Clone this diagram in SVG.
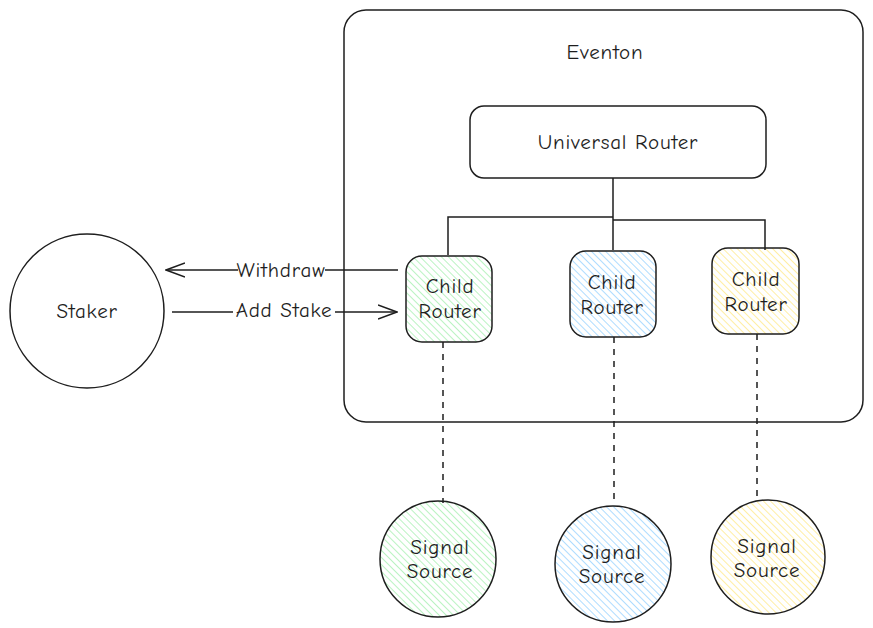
<svg xmlns="http://www.w3.org/2000/svg" width="873" height="628" viewBox="0 0 873 628">
<defs>
<pattern id="hg" patternUnits="userSpaceOnUse" width="5" height="5" patternTransform="rotate(-45)"><line x1="0" y1="0" x2="0" y2="5" stroke="#b2f2bb" stroke-width="1.8"/></pattern>
<pattern id="hb" patternUnits="userSpaceOnUse" width="5" height="5" patternTransform="rotate(-45)"><line x1="0" y1="0" x2="0" y2="5" stroke="#a5d8ff" stroke-width="1.8"/></pattern>
<pattern id="hy" patternUnits="userSpaceOnUse" width="5" height="5" patternTransform="rotate(-45)"><line x1="0" y1="0" x2="0" y2="5" stroke="#ffec99" stroke-width="1.8"/></pattern>
<marker id="arr" markerWidth="20" markerHeight="16" refX="19" refY="8" orient="auto" markerUnits="userSpaceOnUse"><path d="M0,1 L19,8 L0,15" fill="none" stroke="#1e1e1e" stroke-width="1.5"/></marker>
</defs>
<style>
.s{fill:none;stroke:#1e1e1e;stroke-width:1.5}
.t{font-family:"Comic Neue","Liberation Sans",sans-serif;font-size:21px;letter-spacing:0.8px;fill:#1e1e1e;text-anchor:middle;dominant-baseline:central}
.d{stroke:#1e1e1e;stroke-width:1.5;stroke-dasharray:6 6;fill:none}
</style>
<rect width="873" height="628" fill="#fff"/>
<g id="eventon">
<rect class="s" x="344" y="10" width="519" height="412" rx="22"/>
<text class="t" x="605" y="52">Eventon</text>
</g>
<g id="universal-router">
<rect class="s" x="470" y="106" width="296" height="72" rx="14"/>
<text class="t" x="618" y="142">Universal Router</text>
</g>
<g id="staker">
<circle class="s" cx="87" cy="311" r="77"/>
<text class="t" x="87" y="311">Staker</text>
</g>
<g id="child-router-1">
<rect x="406" y="256" width="86" height="86" rx="16" fill="url(#hg)" stroke="#1e1e1e" stroke-width="1.5"/>
<text class="t" x="450" y="286">Child</text>
<text class="t" x="450" y="311">Router</text>
</g>
<g id="child-router-2">
<rect x="570" y="251" width="86" height="86" rx="16" fill="url(#hb)" stroke="#1e1e1e" stroke-width="1.5"/>
<text class="t" x="612" y="282">Child</text>
<text class="t" x="612" y="307">Router</text>
</g>
<g id="child-router-3">
<rect x="712" y="248" width="87" height="86" rx="16" fill="url(#hy)" stroke="#1e1e1e" stroke-width="1.5"/>
<text class="t" x="756" y="279">Child</text>
<text class="t" x="756" y="304">Router</text>
</g>
<g id="signal-source-1">
<circle cx="438" cy="559" r="58" fill="url(#hg)" stroke="#1e1e1e" stroke-width="1.5"/>
<text class="t" x="440" y="547">Signal</text>
<text class="t" x="440" y="571">Source</text>
</g>
<g id="signal-source-2">
<circle cx="613" cy="564" r="58" fill="url(#hb)" stroke="#1e1e1e" stroke-width="1.5"/>
<text class="t" x="612" y="552">Signal</text>
<text class="t" x="612" y="576">Source</text>
</g>
<g id="signal-source-3">
<circle cx="768" cy="557" r="57" fill="url(#hy)" stroke="#1e1e1e" stroke-width="1.5"/>
<text class="t" x="767" y="546">Signal</text>
<text class="t" x="767" y="570">Source</text>
</g>
<g id="connectors">
<path class="s" d="M613,178 V250 M448,255 V217 H613 M613,220 H765 V250"/>
<line class="d" x1="443" y1="342" x2="443" y2="503"/>
<line class="d" x1="614" y1="337" x2="614" y2="500"/>
<line class="d" x1="757" y1="334" x2="757" y2="496"/>
<line class="s" x1="398" y1="270" x2="166" y2="270" marker-end="url(#arr)"/>
<line class="s" x1="172" y1="312" x2="397" y2="312" marker-end="url(#arr)"/>
<rect x="238" y="259" width="87" height="22" fill="#fff"/>
<text class="t" x="281" y="270">Withdraw</text>
<rect x="233" y="299" width="102" height="22" fill="#fff"/>
<text class="t" x="284" y="310">Add Stake</text>
</g>
</svg>
